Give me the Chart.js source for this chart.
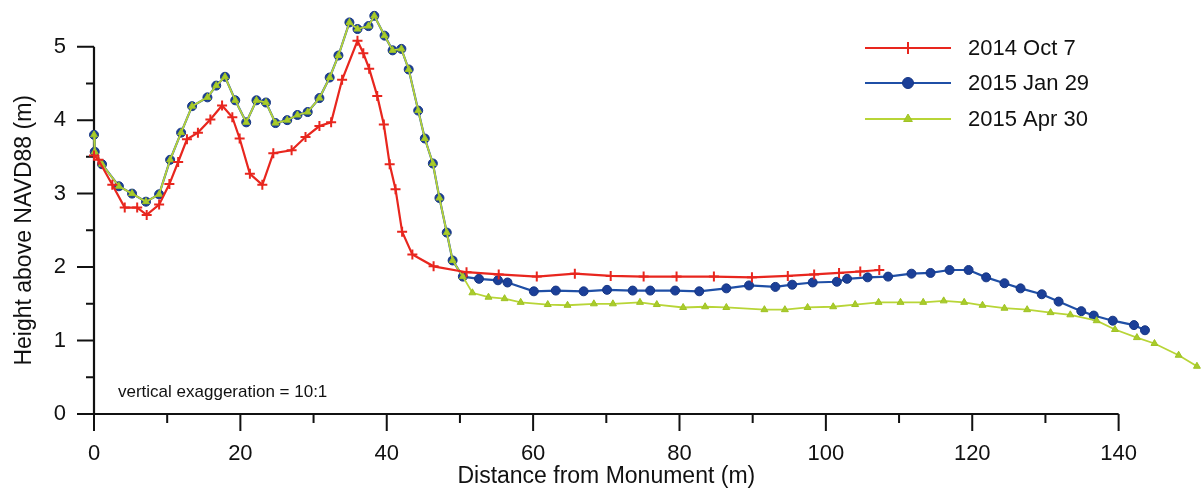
<!DOCTYPE html>
<html>
<head>
<meta charset="utf-8">
<title>Beach profile</title>
<script src="https://cdn.jsdelivr.net/npm/chart.js@4.4.1/dist/chart.umd.min.js"></script>
<style>
  html, body { margin: 0; padding: 0; background: #fff; }
  #wrap { width: 1201px; height: 492px; }
</style>
</head>
<body>
<div id="wrap"><canvas id="profileChart"></canvas></div>
<script>
// --- data (distance in m, height in m) ---
const seriesLabels = ["2014 Oct 7", "2015 Jan 29", "2015 Apr 30"];

const octDistance = [0, 0.6, 2.5, 4.2, 5.9, 7.2, 8.9, 10.3, 11.5, 12.7, 14.2, 15.9, 17.5, 18.9, 19.9, 21.3, 23.0, 24.5,
  27.0, 28.9, 30.8, 32.4, 33.9, 36.0, 36.8, 37.6, 38.7, 39.6, 40.4, 41.2, 42.1, 43.5, 46.4, 50.9, 55.3,
  60.5, 65.7, 70.6, 75.1, 79.6, 84.7, 89.9, 94.8, 98.4, 101.8, 104.7, 107.3];
const octHeight = [3.52, 3.46, 3.12, 2.81, 2.81, 2.71, 2.85, 3.13, 3.43, 3.74, 3.83, 4.01, 4.20, 4.04, 3.75, 3.27, 3.12, 3.55,
  3.59, 3.77, 3.92, 3.97, 4.55, 5.08, 4.91, 4.70, 4.33, 3.94, 3.40, 3.06, 2.48, 2.17, 2.01, 1.93, 1.90,
  1.87, 1.91, 1.88, 1.87, 1.87, 1.87, 1.86, 1.88, 1.90, 1.92, 1.94, 1.96];

// the two 2015 surveys share the same points over the dune
const duneDistance = [0, 0.1, 1.1, 3.4, 5.2, 7.1, 8.9, 10.4, 11.9, 13.4, 15.5, 16.7, 17.9, 19.3, 20.8, 22.2, 23.5, 24.8,
  26.4, 27.8, 29.2, 30.8, 32.2, 33.4, 34.9, 36.0, 37.5, 38.3, 39.7, 40.8, 42.0, 43.0, 44.3, 45.2, 46.3,
  47.2, 48.2, 49.0, 50.4];
const duneHeight = [3.80, 3.57, 3.40, 3.10, 3.00, 2.89, 2.99, 3.46, 3.83, 4.19, 4.31, 4.47, 4.59, 4.27, 3.97, 4.27, 4.24, 3.96,
  4.00, 4.07, 4.11, 4.30, 4.58, 4.88, 5.33, 5.24, 5.28, 5.42, 5.15, 4.95, 4.97, 4.69, 4.13, 3.75, 3.41,
  2.94, 2.47, 2.09, 1.87];

const janDistance = duneDistance.concat([52.6, 55.2, 56.5, 60.1, 63.1, 66.9, 70.1, 73.6, 76.0, 79.4, 82.7, 86.4, 89.5,
  93.1, 95.4, 98.2, 101.5, 102.9, 105.7, 108.5, 111.7, 114.3, 116.9, 119.5, 121.9, 124.4, 126.6, 129.5,
  131.8, 134.9, 136.6, 139.2, 142.1, 143.6]);
const janHeight = duneHeight.concat([1.84, 1.82, 1.79, 1.67, 1.68, 1.67, 1.69, 1.68, 1.68, 1.68, 1.67, 1.71, 1.75,
  1.73, 1.76, 1.79, 1.80, 1.84, 1.86, 1.87, 1.91, 1.92, 1.96, 1.96, 1.86, 1.78, 1.71, 1.63,
  1.53, 1.40, 1.34, 1.27, 1.21, 1.14]);

const aprDistance = duneDistance.concat([51.7, 53.9, 56.1, 58.3, 62.0, 64.7, 68.3, 70.9, 74.6, 76.9, 80.5, 83.5, 86.4,
  91.6, 94.4, 97.5, 101.0, 104.0, 107.2, 110.2, 113.3, 116.1, 118.9, 121.4, 124.4, 127.5, 130.7,
  133.4, 137.0, 139.5, 142.5, 144.9, 148.2, 150.7]);
const aprHeight = duneHeight.concat([1.65, 1.59, 1.57, 1.52, 1.49, 1.48, 1.50, 1.50, 1.52, 1.49, 1.45, 1.46, 1.45,
  1.42, 1.42, 1.45, 1.46, 1.49, 1.52, 1.52, 1.52, 1.54, 1.52, 1.48, 1.44, 1.42, 1.38,
  1.35, 1.27, 1.15, 1.04, 0.96, 0.80, 0.65]);

const xTicks = [0, 20, 40, 60, 80, 100, 120, 140];
const xMinorTicks = [10, 30, 50, 70, 90, 110, 130];
const yTicks = [0, 1, 2, 3, 4, 5];
const yMinorTicks = [0.5, 1.5, 2.5, 3.5, 4.5];

const FONT = "'Liberation Sans', Arial, sans-serif";

function toPoints(xs, ys) {
  return xs.map((x, i) => ({ x: x, y: ys[i] }));
}

/**
 * Draw a legend marker (same shapes the datasets use)
 */
function drawMarker(ctx, style, x, y, r, fill, stroke) {
  ctx.save();
  ctx.fillStyle = fill;
  ctx.strokeStyle = stroke;
  ctx.lineWidth = style === "cross" ? 2 : 1;
  ctx.beginPath();
  if (style === "cross") {
    ctx.moveTo(x - r, y); ctx.lineTo(x + r, y);
    ctx.moveTo(x, y - r); ctx.lineTo(x, y + r);
    ctx.stroke();
  } else if (style === "circle") {
    ctx.arc(x, y, r, 0, Math.PI * 2);
    ctx.fill(); ctx.stroke();
  } else {
    const h = r * 1.5;
    ctx.moveTo(x, y - r);
    ctx.lineTo(x + h * 0.58, y + r * 0.5);
    ctx.lineTo(x - h * 0.58, y + r * 0.5);
    ctx.closePath();
    ctx.fill(); ctx.stroke();
  }
  ctx.restore();
}

// axes (lines stop at the last labelled tick), titles, note and legend
const framePlugin = {
  id: "frame",
  beforeDatasetsDraw(chart) {
    const { ctx } = chart;
    const xs = chart.scales.x;
    const ys = chart.scales.y;
    const x0 = xs.getPixelForValue(xTicks[0]);
    const x1 = xs.getPixelForValue(xTicks[xTicks.length - 1]);
    const y0 = ys.getPixelForValue(yTicks[0]);
    const y1 = ys.getPixelForValue(yTicks[yTicks.length - 1]);

    ctx.save();
    ctx.strokeStyle = "#111";
    ctx.lineWidth = 2.2;
    ctx.beginPath();
    ctx.moveTo(x0, y1); ctx.lineTo(x0, y0); ctx.lineTo(x1, y0);
    ctx.stroke();

    ctx.lineWidth = 2;
    ctx.beginPath();
    xTicks.forEach((v) => { const p = xs.getPixelForValue(v); ctx.moveTo(p, y0); ctx.lineTo(p, y0 + 17); });
    xMinorTicks.forEach((v) => { const p = xs.getPixelForValue(v); ctx.moveTo(p, y0); ctx.lineTo(p, y0 + 9); });
    yTicks.forEach((v) => { const p = ys.getPixelForValue(v); ctx.moveTo(x0, p); ctx.lineTo(x0 - 17, p); });
    yMinorTicks.forEach((v) => { const p = ys.getPixelForValue(v); ctx.moveTo(x0, p); ctx.lineTo(x0 - 8, p); });
    ctx.stroke();

    // axis titles, centred on the drawn axis lines
    ctx.fillStyle = "#111";
    ctx.font = "23px " + FONT;
    ctx.textAlign = "center";
    ctx.textBaseline = "middle";
    ctx.fillText("Distance from Monument (m)", (x0 + x1) / 2, 477);
    ctx.save();
    ctx.translate(25, (y0 + y1) / 2);
    ctx.rotate(-Math.PI / 2);
    ctx.fillText("Height above NAVD88 (m)", 0, 0);
    ctx.restore();

    ctx.font = "17px " + FONT;
    ctx.textAlign = "left";
    ctx.textBaseline = "alphabetic";
    ctx.fillText("vertical exaggeration = 10:1", 118, 397);
    ctx.restore();
  },
  afterDraw(chart) {
    const { ctx } = chart;
    const rows = [48, 83, 119];
    chart.data.datasets.forEach((ds, i) => {
      const y = rows[i];
      ctx.save();
      ctx.strokeStyle = ds.borderColor;
      ctx.lineWidth = ds.borderWidth;
      ctx.beginPath();
      ctx.moveTo(865, y); ctx.lineTo(951, y);
      ctx.stroke();
      drawMarker(ctx, ds.pointStyle, 908, y, ds.pointRadius + 1, ds.pointBackgroundColor, ds.pointBorderColor);
      ctx.fillStyle = "#111";
      ctx.font = "22px " + FONT;
      ctx.textAlign = "left";
      ctx.textBaseline = "middle";
      ctx.fillText(ds.label, 968, y + 1);
      ctx.restore();
    });
  },
};

document.addEventListener("DOMContentLoaded", () => {
  const ctx = document.getElementById("profileChart");

  new Chart(ctx, {
    type: "line",
    data: {
      datasets: [
        {
          label: seriesLabels[0],
          data: toPoints(octDistance, octHeight),
          borderColor: "#e8261e",
          borderWidth: 2.2,
          pointStyle: "cross",
          pointRadius: 5,
          pointBorderWidth: 2,
          pointBackgroundColor: "#e8261e",
          pointBorderColor: "#e8261e",
          order: 0,
        },
        {
          label: seriesLabels[1],
          data: toPoints(janDistance, janHeight),
          borderColor: "#1f4fa6",
          borderWidth: 2.2,
          pointStyle: "circle",
          pointRadius: 4.5,
          pointBorderWidth: 1,
          pointBackgroundColor: "#1b3f98",
          pointBorderColor: "#163683",
          order: 2,
        },
        {
          label: seriesLabels[2],
          data: toPoints(aprDistance, aprHeight),
          borderColor: "#b8d537",
          borderWidth: 1.8,
          pointStyle: "triangle",
          pointRadius: 4,
          pointBorderWidth: 1,
          pointBackgroundColor: "#a9cc2b",
          pointBorderColor: "#9fc224",
          order: 1,
        },
      ],
    },
    options: {
      responsive: true,
      maintainAspectRatio: false,
      animation: false,
      clip: 12,
      layout: { padding: { left: 0, right: 0, top: 0, bottom: 0 } },
      elements: { line: { tension: 0 } },
      plugins: {
        legend: { display: false },
        tooltip: { enabled: false },
      },
      scales: {
        x: {
          type: "linear",
          min: 0,
          max: 150.3,
          grid: { display: false, drawTicks: false },
          border: { display: false },
          afterFit: (scale) => {
            scale.height = 78;
            scale.paddingLeft = 0;
            scale.paddingRight = 0;
          },
          afterBuildTicks: (scale) => { scale.ticks = xTicks.map((v) => ({ value: v })); },
          ticks: {
            padding: 27,
            color: "#111",
            maxRotation: 0,
            autoSkip: false,
            font: { family: FONT, size: 22 },
          },
        },
        y: {
          type: "linear",
          min: 0,
          max: 5.54,
          grid: { display: false, drawTicks: false },
          border: { display: false },
          afterFit: (scale) => {
            scale.width = 94;
            scale.paddingTop = 0;
            scale.paddingBottom = 0;
          },
          afterBuildTicks: (scale) => { scale.ticks = yTicks.map((v) => ({ value: v })); },
          ticks: {
            padding: 28,
            color: "#111",
            autoSkip: false,
            font: { family: FONT, size: 22 },
          },
        },
      },
    },
    plugins: [framePlugin],
  });
});
</script>
</body>
</html>
